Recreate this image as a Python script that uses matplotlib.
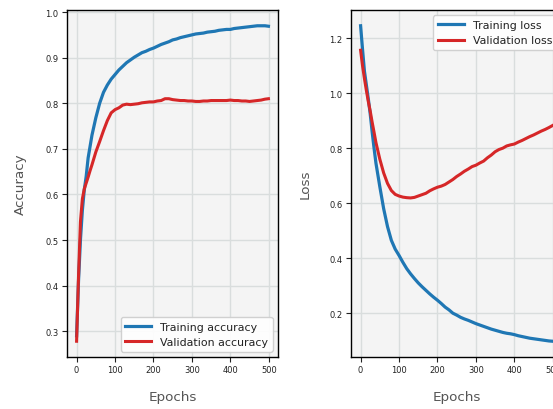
import matplotlib
matplotlib.use("Agg")
import matplotlib.pyplot as plt

epochs = [0, 5, 10, 15, 20, 25, 30, 35, 40, 50, 60, 70, 80, 90, 100, 110, 120, 130, 140, 150,
          160, 170, 180, 190, 200, 210, 220, 230, 240, 250, 260, 270, 280, 290, 300, 310,
          320, 330, 340, 350, 360, 370, 380, 390, 400, 410, 420, 430, 440, 450, 460, 470,
          480, 490, 499]

train_acc = [0.29, 0.41, 0.50, 0.565, 0.61, 0.64, 0.68, 0.705, 0.73, 0.768, 0.800, 0.824, 0.840,
             0.853, 0.863, 0.873, 0.881, 0.889, 0.895, 0.901, 0.906, 0.911, 0.914, 0.918, 0.921,
             0.925, 0.929, 0.932, 0.935, 0.939, 0.941, 0.944, 0.946, 0.948, 0.950, 0.952, 0.953,
             0.954, 0.956, 0.957, 0.958, 0.960, 0.961, 0.962, 0.962, 0.964, 0.965, 0.966, 0.967,
             0.968, 0.969, 0.970, 0.970, 0.970, 0.969]

val_acc = [0.278, 0.42, 0.54, 0.59, 0.612, 0.625, 0.638, 0.652, 0.665, 0.693, 0.716, 0.74, 0.762,
           0.779, 0.786, 0.790, 0.796, 0.798, 0.797, 0.798, 0.799, 0.801, 0.802, 0.803, 0.803,
           0.805, 0.806, 0.810, 0.810, 0.808, 0.807, 0.806, 0.806, 0.805, 0.805, 0.804, 0.804,
           0.805, 0.805, 0.806, 0.806, 0.806, 0.806, 0.806, 0.807, 0.806, 0.806, 0.805, 0.805,
           0.804, 0.805, 0.806, 0.807, 0.809, 0.810]

train_loss = [1.245, 1.16, 1.08, 1.03, 0.98, 0.925, 0.86, 0.80, 0.745, 0.66, 0.58, 0.515, 0.465,
              0.433, 0.41, 0.385, 0.362, 0.343, 0.326, 0.31, 0.296, 0.283, 0.27, 0.258, 0.247,
              0.235, 0.222, 0.212, 0.20, 0.193, 0.185, 0.179, 0.174, 0.168, 0.162, 0.157, 0.152,
              0.147, 0.142, 0.138, 0.134, 0.130, 0.127, 0.125, 0.122, 0.118, 0.115, 0.112, 0.109,
              0.107, 0.105, 0.103, 0.101, 0.099, 0.098]

val_loss = [1.156, 1.10, 1.053, 1.01, 0.97, 0.935, 0.895, 0.858, 0.82, 0.76, 0.71, 0.672, 0.646,
            0.632, 0.626, 0.622, 0.620, 0.619, 0.621, 0.626, 0.631, 0.636, 0.645, 0.652, 0.658,
            0.662, 0.668, 0.677, 0.686, 0.697, 0.706, 0.716, 0.724, 0.733, 0.738, 0.746, 0.753,
            0.765, 0.775, 0.787, 0.795, 0.800, 0.808, 0.812, 0.815, 0.822, 0.828, 0.835, 0.842,
            0.848, 0.855, 0.862, 0.868, 0.875, 0.882]

BLUE = "#1f77b4"
RED = "#d62728"

fig = plt.figure(figsize=(5.53, 4.10), dpi=100)
ax1 = fig.add_axes([67 / 553, 1 - 358 / 410, 211 / 553, 347 / 410])
ax2 = fig.add_axes([351 / 553, 1 - 358 / 410, 211 / 553, 347 / 410])

for ax, (s1, s2, l1, l2, ylab, loc) in zip(
        [ax1, ax2],
        [(train_acc, val_acc, "Training accuracy", "Validation accuracy", "Accuracy", "lower right"),
         (train_loss, val_loss, "Training loss", "Validation loss", "Loss", "upper right")]):
    ax.set_facecolor("#f4f4f4")
    ax.plot(epochs, s1, color=BLUE, lw=2.3, label=l1)
    ax.plot(epochs, s2, color=RED, lw=2.2, label=l2)
    ax.grid(True, color="#d9dddd", lw=1.0)
    ax.set_axisbelow(True)
    for sp in ax.spines.values():
        sp.set_color("black")
        sp.set_linewidth(1.0)
    ax.tick_params(labelsize=6.0, length=3.5, width=0.8, pad=2.5, colors="#222222")
    ax.set_xlabel("Epochs", fontsize=9.7, color="#555555", labelpad=11)
    ax.set_ylabel(ylab, fontsize=9.7, color="#555555", labelpad=13)
    leg = ax.legend(loc=loc, fontsize=7.9, handlelength=2.4, framealpha=0.9,
                    edgecolor="#cccccc", borderaxespad=0.5)
    for t in leg.get_texts():
        t.set_color("#222222")

ax1.set_xticks([0, 100, 200, 300, 400, 500])
ax2.set_xticks([0, 100, 200, 300, 400, 500])
ax2.set_yticks([0.2, 0.4, 0.6, 0.8, 1.0, 1.2])

fig.savefig("out.png", dpi=100)
